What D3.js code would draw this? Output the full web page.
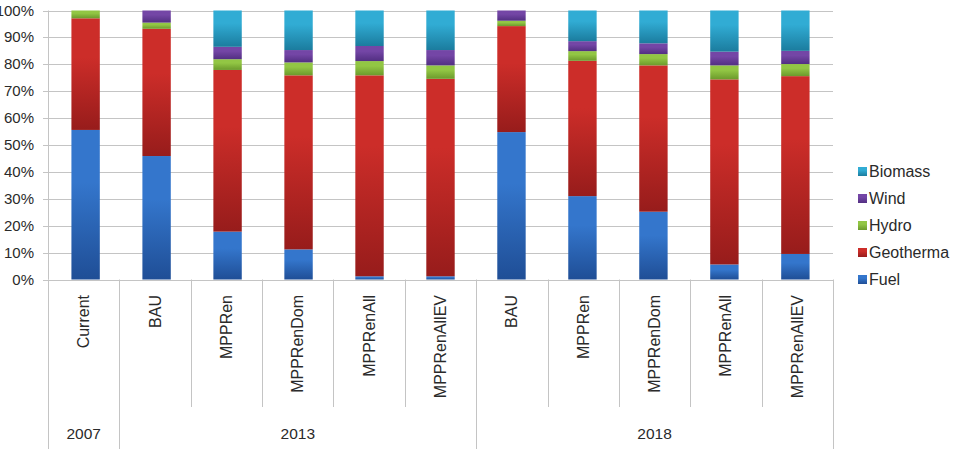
<!DOCTYPE html>
<html><head><meta charset="utf-8">
<script src="https://cdn.jsdelivr.net/npm/d3@7"></script>
<style>body{margin:0;background:#fff}svg{display:block;font-family:"Liberation Sans",Arial,sans-serif}</style>
</head><body><svg id="c" width="955" height="449"></svg>
<script>
const scenarios = ["Current","BAU","MPPRen","MPPRenDom","MPPRenAll","MPPRenAllEV","BAU","MPPRen","MPPRenDom","MPPRenAll","MPPRenAllEV"];
const years = ["2007","2013","2013","2013","2013","2013","2018","2018","2018","2018","2018"];
const seriesNames = ["Fuel","Geotherma","Hydro","Wind","Biomass"];
const fuel      = [55.6, 45.9, 17.8, 11.2,  1.2,  1.2, 54.8, 31.0, 25.2,  5.6,  9.5];
const geotherma = [41.5, 47.3, 60.1, 64.7, 74.7, 73.4, 39.4, 50.3, 54.4, 68.8, 66.1];
const hydro     = [ 2.9,  2.3,  4.0,  4.8,  5.3,  5.0,  2.0,  3.6,  4.2,  5.2,  4.5];
const wind      = [ 0.0,  4.5,  4.6,  4.6,  5.6,  5.7,  3.8,  3.7,  4.0,  5.1,  4.9];
const biomass   = [ 0.0,  0.0, 13.5, 14.7, 13.2, 14.7,  0.0, 11.4, 12.2, 15.3, 15.0];
const yTicks = [0,10,20,30,40,50,60,70,80,90,100];
const colors = {Fuel:["#3476cc","#1f4e96"],Geotherma:["#cc2d29","#971c1b"],Hydro:["#92c644","#6c9a2c"],Wind:["#7446a6","#522f82"],Biomass:["#31acd4","#1b7c9e"]};

const svg = d3.select("#c");
const L=48, R=833, T=10.5, B=279.5;
const idx = d3.range(scenarios.length);
const x = d3.scaleBand().domain(idx).range([L,R]).paddingInner(0.6).paddingOuter(0.33);
const xb = d3.scaleBand().domain(idx).range([L,R]);
const y = d3.scaleLinear().domain([0,100]).range([B,T]);

const defs = svg.append("defs");
seriesNames.forEach((s,i)=>{
  const g = defs.append("linearGradient").attr("id","g"+i).attr("x1",0).attr("y1",0).attr("x2",0).attr("y2",1);
  g.append("stop").attr("offset","0%").attr("stop-color",colors[s][0]);
  g.append("stop").attr("offset","35%").attr("stop-color",colors[s][0]);
  g.append("stop").attr("offset","100%").attr("stop-color",colors[s][1]);
});

// gridlines
svg.append("g").selectAll("line").data(yTicks).join("line")
  .attr("x1",L-5).attr("x2",R).attr("y1",d=>Math.round(y(d))+0.5).attr("y2",d=>Math.round(y(d))+0.5)
  .attr("stroke","#c4c4c4").attr("stroke-width",1);
svg.append("line").attr("x1",L+0.5).attr("x2",L+0.5).attr("y1",T).attr("y2",B).attr("stroke","#c4c4c4");

// y labels
svg.append("g").selectAll("text").data(yTicks).join("text")
  .attr("x",34).attr("y",d=>y(d)+5).attr("text-anchor","end").attr("font-size",15).attr("fill","#2a2a2a")
  .text(d=>d+"%");

// stacks
const rows = idx.map(i=>({i,Fuel:fuel[i],Geotherma:geotherma[i],Hydro:hydro[i],Wind:wind[i],Biomass:biomass[i]}));
const stack = d3.stack().keys(seriesNames)(rows);
stack.forEach((layer,si)=>{
  svg.append("g").selectAll("rect").data(layer.filter(d=>d[1]-d[0]>0)).join("rect")
    .attr("x",d=>x(d.data.i)).attr("width",x.bandwidth())
    .attr("y",d=>y(Math.min(100,d[1]))).attr("height",d=>y(d[0])-y(Math.min(100,d[1])))
    .attr("fill","url(#g"+si+")");
});

// category axis separators
const sep = svg.append("g").attr("stroke","#c4c4c4").attr("stroke-width",1);
const groupStart = idx.filter(i=>i===0||years[i]!==years[i-1]);
idx.concat([scenarios.length]).forEach(i=>{
  const xx = Math.round(i<scenarios.length? xb(i) : R)+0.5;
  const full = i===scenarios.length || groupStart.includes(i);
  sep.append("line").attr("x1",xx).attr("x2",xx).attr("y1",B).attr("y2",full?449:407);
});

// scenario labels
svg.append("g").selectAll("text").data(idx).join("text")
  .attr("transform",i=>`translate(${xb(i)+xb.bandwidth()/2+5.5},295) rotate(-90)`)
  .attr("text-anchor","end").attr("font-size",16).attr("fill","#2a2a2a").text(i=>scenarios[i]);

// year labels
const groups = d3.groups(idx,i=>years[i]);
svg.append("g").selectAll("text").data(groups).join("text")
  .attr("x",g=>(xb(g[1][0])+xb(g[1][g[1].length-1])+xb.bandwidth())/2).attr("y",439)
  .attr("text-anchor","middle").attr("font-size",15.5).attr("fill","#2a2a2a").text(g=>g[0]);

// legend
const leg = svg.append("g");
seriesNames.slice().reverse().forEach((s,k)=>{
  const si = seriesNames.indexOf(s);
  const cy = 171.5 + k*27;
  leg.append("rect").attr("x",858).attr("y",cy-4.5).attr("width",9).attr("height",9).attr("fill","url(#g"+si+")");
  leg.append("text").attr("x",869).attr("y",cy+5.5).attr("font-size",16).attr("fill","#2a2a2a").text(s);
});
</script></body></html>
